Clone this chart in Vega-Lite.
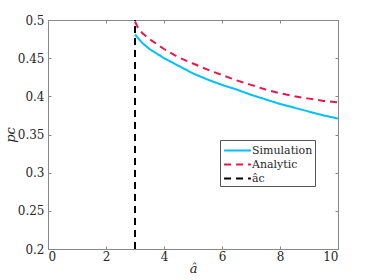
{
  "$schema": "https://vega.github.io/schema/vega-lite/v6.json",
  "width": 290,
  "height": 229,
  "autosize": {"type": "none"},
  "padding": {"left": 48, "top": 20, "right": 36, "bottom": 31},
  "background": "white",
  "config": {
    "view": {"stroke": "#888888", "strokeWidth": 1},
    "font": "DejaVu Serif",
    "axis": {
      "domainColor": "#888888",
      "tickColor": "#888888",
      "grid": false,
      "labelFont": "DejaVu Serif",
      "labelFontSize": 12,
      "labelColor": "#262626",
      "titleFont": "DejaVu Serif",
      "titleFontSize": 13,
      "titleFontWeight": "normal",
      "titleFontStyle": "italic",
      "titleColor": "#262626",
      "tickSize": -3
    },
    "legend": {
      "labelFont": "DejaVu Serif",
      "labelFontSize": 11,
      "labelColor": "#262626"
    }
  },
  "data": {
    "values": [
      {"a": 3.0, "p": 0.481, "series": "Simulation"},
      {"a": 3.25, "p": 0.470, "series": "Simulation"},
      {"a": 3.5, "p": 0.462, "series": "Simulation"},
      {"a": 4.0, "p": 0.450, "series": "Simulation"},
      {"a": 4.5, "p": 0.440, "series": "Simulation"},
      {"a": 5.0, "p": 0.430, "series": "Simulation"},
      {"a": 5.5, "p": 0.422, "series": "Simulation"},
      {"a": 6.0, "p": 0.415, "series": "Simulation"},
      {"a": 6.5, "p": 0.409, "series": "Simulation"},
      {"a": 7.0, "p": 0.402, "series": "Simulation"},
      {"a": 7.5, "p": 0.396, "series": "Simulation"},
      {"a": 8.0, "p": 0.390, "series": "Simulation"},
      {"a": 8.5, "p": 0.385, "series": "Simulation"},
      {"a": 9.0, "p": 0.380, "series": "Simulation"},
      {"a": 9.5, "p": 0.375, "series": "Simulation"},
      {"a": 10.0, "p": 0.371, "series": "Simulation"},
      {"a": 3.0, "p": 0.498, "series": "Analytic"},
      {"a": 3.1, "p": 0.490, "series": "Analytic"},
      {"a": 3.25, "p": 0.483, "series": "Analytic"},
      {"a": 3.5, "p": 0.475, "series": "Analytic"},
      {"a": 4.0, "p": 0.462, "series": "Analytic"},
      {"a": 4.5, "p": 0.451, "series": "Analytic"},
      {"a": 5.0, "p": 0.443, "series": "Analytic"},
      {"a": 5.5, "p": 0.435, "series": "Analytic"},
      {"a": 6.0, "p": 0.428, "series": "Analytic"},
      {"a": 6.5, "p": 0.421, "series": "Analytic"},
      {"a": 7.0, "p": 0.415, "series": "Analytic"},
      {"a": 7.5, "p": 0.409, "series": "Analytic"},
      {"a": 8.0, "p": 0.404, "series": "Analytic"},
      {"a": 8.5, "p": 0.400, "series": "Analytic"},
      {"a": 9.0, "p": 0.397, "series": "Analytic"},
      {"a": 9.5, "p": 0.394, "series": "Analytic"},
      {"a": 10.0, "p": 0.392, "series": "Analytic"},
      {"a": 3.0, "p": 0.2, "series": "âc"},
      {"a": 3.0, "p": 0.5, "series": "âc"}
    ]
  },
  "layer": [
    {
      "mark": {"type": "line", "strokeWidth": 2, "clip": true},
      "encoding": {
        "x": {
          "field": "a", "type": "quantitative",
          "scale": {"domain": [0, 10], "nice": false},
          "axis": {"orient": "bottom", "values": [0, 2, 4, 6, 8, 10], "format": "d", "title": "â", "labelPadding": 5, "titlePadding": 0}
        },
        "y": {
          "field": "p", "type": "quantitative",
          "scale": {"domain": [0.2, 0.5], "nice": false, "zero": false},
          "axis": {"orient": "left", "values": [0.2, 0.25, 0.3, 0.35, 0.4, 0.45, 0.5], "format": ".2~f", "title": "pc", "labelPadding": 7, "titlePadding": 0}
        },
        "color": {
          "field": "series", "type": "nominal",
          "scale": {"domain": ["Simulation", "Analytic", "âc"], "range": ["#00BFFF", "#E8174A", "#000000"]},
          "legend": {
            "title": null,
            "orient": "none",
            "legendX": 172,
            "legendY": 120,
            "fillColor": "white",
            "strokeColor": "#555555",
            "padding": 2,
            "symbolType": "M-1.9,0H1.9",
            "symbolSize": 200,
            "symbolOffset": 7,
            "symbolStrokeWidth": 2,
            "rowPadding": 0,
            "labelOffset": 6
          }
        },
        "strokeDash": {
          "field": "series", "type": "nominal",
          "scale": {"domain": ["Simulation", "Analytic", "âc"], "range": [[1, 0], [7, 5], [7, 5]]},
          "legend": {"title": null}
        },
        "detail": {"field": "series"}
      }
    },
    {
      "mark": {"type": "point", "opacity": 0},
      "encoding": {
        "x": {
          "field": "a", "type": "quantitative",
          "scale": {"domain": [0, 10], "nice": false},
          "axis": {"orient": "top", "values": [0, 2, 4, 6, 8, 10], "labels": false, "title": null}
        },
        "y": {
          "field": "p", "type": "quantitative",
          "scale": {"domain": [0.2, 0.5], "nice": false, "zero": false},
          "axis": {"orient": "right", "values": [0.2, 0.25, 0.3, 0.35, 0.4, 0.45, 0.5], "labels": false, "title": null}
        }
      }
    }
  ],
  "resolve": {"axis": {"x": "independent", "y": "independent"}}
}
